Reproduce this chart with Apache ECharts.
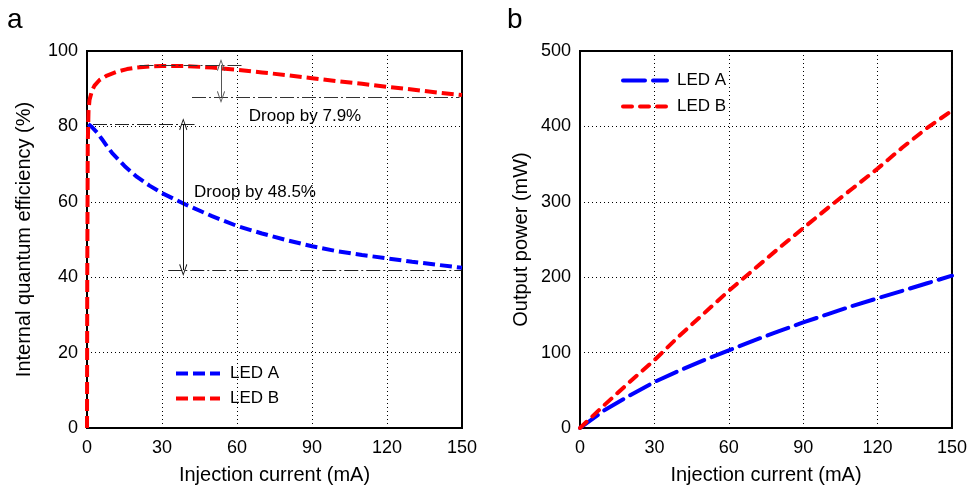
<!DOCTYPE html>
<html>
<head>
<meta charset="utf-8">
<script src="https://cdn.jsdelivr.net/npm/echarts@6/dist/echarts.min.js"></script>
<style>html,body{margin:0;padding:0;background:#fff}#c{width:970px;height:490px}</style>
</head>
<body>
<div id="c"></div>
<script>
// ---- Data ----
const xTicksCurrent = [0, 30, 60, 90, 120, 150];
const iqeTicks = [0, 20, 40, 60, 80, 100];
const powerTicks = [0, 100, 200, 300, 400, 500];

// Panel a: internal quantum efficiency (%) vs injection current (mA)
const iqeCurrentA = [0.5, 1, 2, 4, 6, 8, 10, 15, 20, 25, 30, 40, 50, 60, 70, 80, 90, 100, 110, 120, 130, 140, 150];
const iqeLedA     = [80.6, 80.4, 79.8, 78.4, 76.6, 74.7, 73.0, 69.5, 66.6, 64.3, 62.3, 59.1, 56.2, 53.6, 51.6, 49.8, 48.2, 46.9, 45.9, 45.0, 44.1, 43.3, 42.5];
const iqeCurrentB = [0, 0.1, 0.3, 0.6, 1, 2, 3, 5, 8, 12, 16, 20, 25, 30, 40, 50, 60, 70, 80, 90, 100, 110, 120, 130, 140, 150];
const iqeLedB     = [0, 40, 75, 84, 87, 89.5, 90.8, 92.3, 93.5, 94.5, 95.2, 95.6, 95.9, 96.0, 96.0, 95.6, 95.0, 94.3, 93.6, 92.8, 92.0, 91.3, 90.5, 89.8, 89.0, 88.3];

// Panel b: output power (mW) vs injection current (mA)
const powCurrent = [0, 10, 20, 30, 40, 50, 60, 70, 80, 90, 100, 110, 120, 130, 140, 150];
const powLedA    = [0, 24, 43, 61, 76, 90, 103, 116, 128, 140, 151, 162, 172, 182, 192, 202];
const powLedB    = [0, 31, 61, 90, 122, 152, 182, 210, 238, 265, 292, 318, 344, 372, 398, 421];

// Annotations (data coordinates)
const droopBLevels = [96.3, 87.8];        // LED B peak / end
const droopBPeakSpan = [21, 63];
const droopBEndSpan = [42, 149];
const droopBArrowX = 53.6;
const droopALevels = [80.6, 41.9];        // LED A peak / end
const droopAPeakSpan = [2.4, 43];
const droopAEndSpan = [32.5, 149.8];
const droopAArrowX = 38.5;
const droopBText = ['Droop by 7.9%', 87.2, 82.8];
const droopAText = ['Droop by 48.5%', 67.2, 62.4];

const namesA = ['LED A', 'LED B'];     // panel a series
const namesB = ['LED A ', 'LED B '];   // panel b series (own legend entries)

// ---- Build ----
const pair = (xs, ys) => xs.map((x, i) => [x, ys[i]]);
const FONT = 'Liberation Sans, Arial, Helvetica, sans-serif';
const BLUE = '#0000ff', RED = '#ff0000';
const DASHDOT = [14, 3, 2, 3];
const chevron = 'path://M0,10 L5,0 L10,10 L9,10.6 L5,2.2 L1,10.6 Z';

const hLine = (y, span, color) => [{coord: [span[0], y], symbol: 'none'}, {coord: [span[1], y], symbol: 'none', lineStyle: {color: color, type: DASHDOT, width: 1}}];
const vArrow = (x, levels, color) => [{coord: [x, levels[0]]}, {coord: [x, levels[1]], lineStyle: {color: color, type: 'solid', width: 1}}];

const axisTxt = {fontSize: 18, color: '#000', fontFamily: FONT};
const splitLn = {show: true, lineStyle: {color: '#000', type: [1, 3], width: 1}};

function xAx(gi) {
  return {
    type: 'value', gridIndex: gi, min: xTicksCurrent[0], max: xTicksCurrent[xTicksCurrent.length - 1], interval: 30,
    axisLine: {show: false}, axisTick: {show: false}, splitLine: splitLn,
    axisLabel: Object.assign({margin: 11}, axisTxt),
    name: 'Injection current (mA)', nameLocation: 'middle', nameGap: 37,
    nameTextStyle: {fontSize: 20, color: '#000', fontFamily: FONT}
  };
}
function yAx(gi, ticks, name, gap) {
  return {
    type: 'value', gridIndex: gi, min: ticks[0], max: ticks[ticks.length - 1], interval: ticks[1] - ticks[0],
    axisLine: {show: false}, axisTick: {show: false}, splitLine: splitLn,
    axisLabel: Object.assign({margin: 9}, axisTxt),
    name: name, nameLocation: 'middle', nameGap: gap,
    nameTextStyle: {fontSize: 20, color: '#000', fontFamily: FONT}
  };
}
function legendAt(left, top, names, gap) {
  return {
    left: left, top: top, orient: 'vertical', itemWidth: 44, itemHeight: 20, itemGap: gap,
    selectedMode: false,
    itemStyle: {opacity: 0},
    lineStyle: {width: 4},
    formatter: n => n.trim(),
    textStyle: {fontSize: 17, color: '#000', fontFamily: FONT, padding: [0, 0, 0, 5]},
    data: names
  };
}

const option = {
  backgroundColor: '#fff',
  animation: false,
  textStyle: {fontFamily: FONT},
  graphic: [
    {type: 'text', left: 7, top: 6, style: {text: 'a', fontSize: 28, fill: '#000', fontFamily: FONT}},
    {type: 'text', left: 507, top: 6, style: {text: 'b', fontSize: 28, fill: '#000', fontFamily: FONT}}
  ],
  grid: [
    {left: 87, top: 51, width: 375, height: 377, show: true, borderColor: '#000', borderWidth: 2, backgroundColor: 'transparent'},
    {left: 580, top: 51, width: 376, height: 377, show: true, borderColor: '#000', borderWidth: 2, backgroundColor: 'transparent'}
  ],
  xAxis: [xAx(0), xAx(1)],
  yAxis: [yAx(0, iqeTicks, 'Internal quantum efficiency (%)', 53), yAx(1, powerTicks, 'Output power (mW)', 49)],
  legend: [legendAt(169, 360, namesA, 8), legendAt(616, 67, namesB, 9)],
  series: [
    {
      name: namesA[0], type: 'line', xAxisIndex: 0, yAxisIndex: 0, showSymbol: false, symbol: 'none',
      data: pair(iqeCurrentA, iqeLedA), color: BLUE,
      lineStyle: {color: BLUE, width: 4, type: [12, 5]},
      markLine: {
        silent: true, animation: false, label: {show: false},
        symbol: [chevron, chevron], symbolSize: [8, 12],
        data: [
          hLine(droopALevels[0], droopAPeakSpan, '#222'),
          hLine(droopALevels[1], droopAEndSpan, '#222'),
          vArrow(droopAArrowX, droopALevels, '#111')
        ]
      },
      markPoint: {
        silent: true, symbol: 'circle', symbolSize: 0,
        label: {show: true, position: 'inside', formatter: droopAText[0], fontSize: 17, color: '#000', fontFamily: FONT},
        data: [{coord: [droopAText[1], droopAText[2]]}]
      }
    },
    {
      name: namesA[1], type: 'line', xAxisIndex: 0, yAxisIndex: 0, showSymbol: false, symbol: 'none',
      data: pair(iqeCurrentB, iqeLedB), color: RED,
      lineStyle: {color: RED, width: 4, type: [12, 5]},
      markLine: {
        silent: true, animation: false, label: {show: false},
        symbol: [chevron, chevron], symbolSize: [8, 12],
        data: [
          hLine(droopBLevels[0], droopBPeakSpan, '#333'),
          hLine(droopBLevels[1], droopBEndSpan, '#333'),
          vArrow(droopBArrowX, droopBLevels, '#555')
        ]
      },
      markPoint: {
        silent: true, symbol: 'circle', symbolSize: 0,
        label: {show: true, position: 'inside', formatter: droopBText[0], fontSize: 17, color: '#000', fontFamily: FONT},
        data: [{coord: [droopBText[1], droopBText[2]]}]
      }
    },
    {
      name: namesB[0], type: 'line', xAxisIndex: 1, yAxisIndex: 1, showSymbol: false, symbol: 'none',
      data: pair(powCurrent, powLedA), color: BLUE,
      lineStyle: {color: BLUE, width: 4, type: [22, 8], cap: 'round'}
    },
    {
      name: namesB[1], type: 'line', xAxisIndex: 1, yAxisIndex: 1, showSymbol: false, symbol: 'none',
      data: pair(powCurrent, powLedB), color: RED,
      lineStyle: {color: RED, width: 4, type: [9, 8], cap: 'round'}
    }
  ]
};

const chart = echarts.init(document.getElementById('c'), null, {renderer: 'canvas'});
chart.setOption(option);
</script>
</body>
</html>
